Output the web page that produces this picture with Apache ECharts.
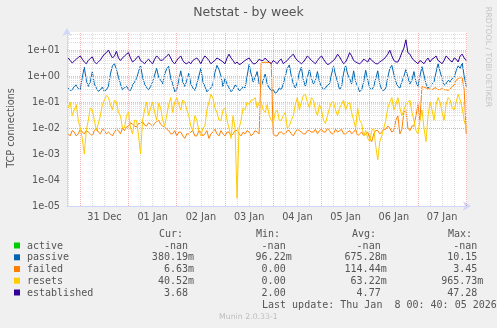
<!DOCTYPE html>
<html><head><meta charset="utf-8">
<script src="https://cdn.jsdelivr.net/npm/echarts@6/dist/echarts.min.js"></script>
<style>html,body{margin:0;padding:0;background:#F0F0F0;}#c{width:497px;height:328px;}</style>
</head><body><div id="c"></div>
<script>
const chartTitle = 'Netstat - by week';
const yAxisTitle = 'TCP connections';
const dayLabels = ['31 Dec','01 Jan','02 Jan','03 Jan','04 Jan','05 Jan','06 Jan','07 Jan'];
const dayLabelHours = [12,36,60,84,108,132,156,180];
const yTickValues = [1e-5,1e-4,1e-3,1e-2,1e-1,1,10];
const yTickLabels = ['1e-05','1e-04','1e-03','1e-02','1e-01','1e+00','1e+01'];
// sample times: hours relative to 31 Dec 00:00, one sample every hour
const startHour = -6, stepHours = 1;

const seriesNames = ['active','passive','failed','resets','established'];
const seriesColors = ['#00CC00','#0066B3','#FF8000','#FFCC00','#330099'];

const active = [];
const passive = [
0.35,0.28,0.3,0.4,0.45,0.33,0.3,0.9,2.2,0.7,0.4,0.6,1.5,0.5,0.35,0.26,0.3,0.38,0.25,0.3,
0.4,1.2,2.5,3.0,1.8,0.9,0.5,0.3,0.35,0.42,0.3,0.28,0.45,0.6,0.8,1.5,2.6,0.9,0.5,0.35,
0.3,0.4,0.6,1.1,2.0,0.9,0.7,0.5,1.2,1.9,2.4,0.8,0.5,0.25,0.3,0.7,1.6,0.6,0.4,0.7,
1.3,0.5,0.35,0.28,0.5,1.0,2.0,0.6,0.4,0.25,0.3,0.35,0.5,1.4,2.6,1.8,1.0,0.4,0.8,0.5,
0.35,0.25,0.3,0.45,0.4,0.28,0.3,0.4,0.35,1.0,2.8,1.2,0.6,0.9,1.5,0.5,0.4,0.7,1.2,0.5,
0.35,0.28,0.3,0.22,0.25,0.35,0.3,0.5,1.0,2.0,2.7,1.0,0.5,0.35,0.6,1.4,2.2,0.7,0.4,0.9,
1.8,0.8,0.5,0.7,1.5,0.6,0.4,0.3,0.35,0.45,0.5,1.2,2.4,1.1,0.6,0.3,0.4,1.3,2.6,1.2,
0.8,0.5,1.6,0.6,0.4,0.25,0.3,0.6,1.7,0.7,0.35,0.3,0.4,0.8,1.6,0.5,0.3,0.28,0.35,0.9,
2.0,2.6,1.2,0.6,0.4,0.35,0.6,1.0,1.8,0.9,0.5,0.7,1.5,0.6,0.4,1.0,2.3,1.1,0.5,0.35,
0.4,0.5,0.6,1.4,3.0,1.5,0.8,0.45,0.5,0.7,0.6,0.8,0.9,1.6,2.5,2.0,3.2,1.0,0.4];
const failed = [
0.006,0.005,0.008,0.007,0.005,0.006,0.009,0.007,0.006,0.008,0.007,0.006,0.005,0.008,0.01,0.007,0.006,0.009,0.008,0.006,
0.007,0.006,0.005,0.007,0.009,0.008,0.006,0.01,0.008,0.011,0.012,0.016,0.014,0.012,0.011,0.015,0.015,0.018,0.013,0.012,
0.016,0.014,0.012,0.015,0.018,0.02,0.014,0.012,0.011,0.009,0.008,0.006,0.006,0.008,0.005,0.007,0.007,0.005,0.004,0.006,
0.006,0.007,0.008,0.005,0.005,0.008,0.007,0.005,0.006,0.008,0.004,0.006,0.007,0.009,0.006,0.005,0.008,0.006,0.005,0.007,
0.007,0.005,0.006,0.008,0.008,0.006,0.005,0.007,0.006,0.008,0.007,0.005,0.006,0.008,0.007,0.006,3.2,3.4,3.4,3.4,
3.3,3.2,0.006,0.005,0.005,0.007,0.007,0.006,0.006,0.008,0.008,0.006,0.005,0.007,0.009,0.008,0.007,0.006,0.006,0.008,
0.008,0.007,0.007,0.009,0.006,0.008,0.009,0.007,0.007,0.01,0.008,0.006,0.006,0.009,0.007,0.008,0.009,0.006,0.006,0.007,
0.008,0.006,0.007,0.009,0.005,0.006,0.007,0.005,0.006,0.007,0.004,0.003,0.006,0.008,0.008,0.006,0.007,0.009,0.009,0.012,
0.01,0.007,0.008,0.02,0.03,0.006,0.009,0.04,0.05,0.01,0.008,0.012,0.012,0.03,0.08,0.02,0.4,0.38,0.35,0.33,
0.32,0.3,0.34,0.36,0.3,0.31,0.33,0.3,0.3,0.28,0.32,0.4,0.45,0.7,0.8,0.85,0.85,0.3,0.006];
const resets = [
0.06,0.1,0.03,0.05,0.08,0.02,0.01,0.004,0.001,0.008,0.02,0.06,0.05,0.02,0.008,0.015,0.03,0.08,0.12,0.18,
0.15,0.08,0.05,0.12,0.1,0.04,0.03,0.01,0.01,0.03,0.04,0.01,0.006,0.02,0.02,0.005,0.001,0.02,0.05,0.1,
0.03,0.06,0.1,0.04,0.02,0.09,0.06,0.02,0.012,0.03,0.08,0.15,0.04,0.1,0.15,0.08,0.05,0.12,0.1,0.05,
0.03,0.012,0.008,0.03,0.02,0.008,0.005,0.01,0.012,0.05,0.1,0.2,0.14,0.06,0.04,0.02,0.02,0.05,0.06,0.02,
0.01,0.004,0.03,0.01,0.00002,0.01,0.02,0.06,0.05,0.1,0.08,0.12,0.12,0.15,0.06,0.1,0.1,0.05,0.04,0.08,
0.03,0.02,0.015,0.04,0.05,0.02,0.02,0.03,0.04,0.01,0.012,0.02,0.03,0.08,0.15,0.05,0.1,0.18,0.2,0.1,
0.06,0.15,0.12,0.05,0.03,0.08,0.05,0.02,0.015,0.03,0.06,0.1,0.1,0.05,0.03,0.06,0.08,0.12,0.05,0.08,
0.1,0.04,0.02,0.01,0.06,0.02,0.015,0.005,0.008,0.004,0.003,0.008,0.01,0.002,0.0006,0.003,0.005,0.01,0.02,0.06,
0.1,0.15,0.05,0.08,0.15,0.06,0.03,0.05,0.08,0.1,0.12,0.04,0.02,0.008,0.006,0.02,0.05,0.01,0.003,0.03,
0.1,0.05,0.02,0.08,0.15,0.1,0.04,0.02,0.08,0.15,0.12,0.06,0.05,0.1,0.2,0.12,0.06,0.02,0.01];
const established = [
5,4,3.2,3.8,4.5,5.2,6,4.5,3.5,3,4,4.8,5.5,3.6,3,3.5,4.2,5.5,7,8,
10,7,5,6,9,5,4,5,6,7,8,5,3.5,4,5,6,4,3.5,3,3.8,
4.5,3.5,3,4.5,6,5,4,4.2,5,6,7,5,3.5,3,4,5,6,4,3.2,3,
3.5,3,4,4.5,5,4,3,4.5,6,5,4,3,3.5,4,5,4.5,4,3.5,3,5,
7,5,4,3,3.5,2.8,3,3.5,4,4.5,5,3.8,3,3,3.5,4.5,4,4,5,4,
3.5,3,4,3.5,3,4,4.5,3,3.5,4,5,6,7,5,4,3.5,3,3.5,4.5,6,
5,4,3.5,3,4,5,6,4.5,3.5,2.8,3,3.5,4,5,7,5.5,4,3,3.5,5,
8,6,4,3.5,3.2,3,3.5,4.5,4,3.5,5,4,3.5,3,3,3.5,4,4.5,5.5,7,
10,6,4,3.5,3.5,5,8,12,25,8,7,5,4,3.5,3,4,3.5,3,4,5,
3.5,4.5,5,6,4,3.5,3,4,6,5,4,3.5,5,4.5,3.5,6,7,5,4];
const seriesValues = [active, passive, failed, resets, established];

const legendHeaders = ['Cur:','Min:','Avg:','Max:'];
const curVals = ['-nan','380.19m','6.63m','40.52m','3.68'];
const minVals = ['-nan','96.22m','0.00','0.00','2.00'];
const avgVals = ['-nan','675.28m','114.44m','63.22m','4.77'];
const maxVals = ['-nan','10.15','3.45','965.73m','47.28'];
const lastUpdate = 'Last update: Thu Jan  8 00: 40: 05 2026';
const muninVersion = 'Munin 2.0.33-1';
const rrdCredit = 'RRDTOOL / TOBI OETIKER';

const MONO = '"DejaVu Sans Mono", monospace';
const SANS = '"DejaVu Sans", sans-serif';
const FONTC = '#555555';

// gridlines
const gridMarks = [];
const minorStyle = {color:'#dcdcdc', width:1, type:[1,1]};
const majorStyle = {color:'rgba(235,120,120,0.55)', width:1, type:[1,1]};
for (let e=-5; e<=1; e++) {
  for (let m=2; m<=9; m++) {
    const v = m*Math.pow(10,e);
    if (v < 50) gridMarks.push({yAxis: v, lineStyle: minorStyle});
  }
}
for (let h=-6; h<=186; h+=6) if (h % 24 !== 0) gridMarks.push({xAxis: h, lineStyle: minorStyle});
yTickValues.forEach(v => gridMarks.push({yAxis: v, lineStyle: majorStyle}));
for (let h=0; h<=192; h+=24) gridMarks.push({xAxis: h, lineStyle: majorStyle});

const series = [{
  name: 'grid', type: 'line', data: [], silent: true, z: 1,
  markLine: {silent: true, symbol: ['none','none'], label: {show:false}, animation:false, data: gridMarks}
}];
seriesNames.forEach((n,i) => {
  series.push({
    name: n, type: 'line', z: 2 + i,
    data: seriesValues[i].map((v,k) => [startHour + k*stepHours, v]),
    showSymbol: false, symbol: 'none',
    lineStyle: {color: seriesColors[i], width: 1},
    itemStyle: {color: seriesColors[i]},
    emphasis: {disabled: true}, animation: false
  });
});

// graphic elements: title, axis title, legend table
const graphic = [];
graphic.push({type:'text', left: 'center', top: 6, style:{text: chartTitle, font: '12.5px ' + SANS, fill: FONTC}});
graphic.push({type:'text', x: 11, y: 128, rotation: Math.PI/2,
  style:{text: yAxisTitle, font: '9.72px ' + SANS, fill: FONTC, align:'center', verticalAlign:'middle'}});
graphic.push({type:'text', x: 488, y: 57, rotation: -Math.PI/2,
  style:{text: rrdCredit, font: '7.8px ' + SANS, fill: '#c4c4c4', align:'center', verticalAlign:'middle'}});
graphic.push({type:'text', x: 219, y: 317,
  style:{text: muninVersion, font: '7.8px ' + SANS, fill: '#bdbdbd', align:'left', verticalAlign:'middle'}});

const rowY = [246, 257.8, 269.5, 281.2, 293];
const headerX = [159, 256, 352, 448];
const colRight = [194, 291.7, 386.7, 483.3];
const charW = 6.02;
legendHeaders.forEach((h,i) => graphic.push({type:'text', x: headerX[i], y: 234,
  style:{text: h, font: '10px ' + MONO, fill: FONTC, align:'left', verticalAlign:'middle'}}));
const cols = [curVals, minVals, avgVals, maxVals];
seriesNames.forEach((n,r) => {
  graphic.push({type:'rect', shape:{x:14, y: rowY[r]-3.5, width:6, height:6}, style:{fill: seriesColors[r]}});
  graphic.push({type:'text', x: 27, y: rowY[r],
    style:{text: n, font: '10px ' + MONO, fill: FONTC, align:'left', verticalAlign:'middle'}});
  cols.forEach((col,c) => {
    const s = col[r];
    const hasSuffix = /[a-zA-Z]$/.test(s) && !/nan$/.test(s);
    graphic.push({type:'text', x: colRight[c] - (hasSuffix ? 0 : charW), y: rowY[r],
      style:{text: s, font: '10px ' + MONO, fill: FONTC, align:'right', verticalAlign:'middle'}});
  });
});
graphic.push({type:'text', x: 262, y: 305,
  style:{text: lastUpdate, font: '10px ' + MONO, fill: FONTC, align:'left', verticalAlign:'middle'}});

const chart = echarts.init(document.getElementById('c'), null, {renderer:'canvas'});
chart.setOption({
  backgroundColor: '#F0F0F0',
  animation: false,
  grid: {left: 67, right: 30, top: 32, bottom: 122, containLabel: false, show: true,
         backgroundColor: '#FFFFFF', borderWidth: 0},
  xAxis: {
    type: 'value', min: -6.6, max: 192.4,
    axisLine: {show: true, onZero: false, lineStyle: {color: '#CFD6F8', width: 1},
               symbol: ['none','arrow'], symbolSize: [7, 8], symbolOffset: [0, 4]},
    axisTick: {show: false},
    splitLine: {show: false},
    axisLabel: {customValues: dayLabelHours, margin: 6,
      formatter: v => { const i = dayLabelHours.indexOf(Math.round(v)); return i >= 0 ? dayLabels[i] : ''; },
      color: FONTC, fontFamily: SANS, fontSize: 9.72}
  },
  yAxis: {
    type: 'log', logBase: 10, min: 1e-5, max: 50, splitNumber: 7,
    axisLine: {show: true, onZero: false, lineStyle: {color: '#CFD6F8', width: 1},
               symbol: ['none','arrow'], symbolSize: [7, 8], symbolOffset: [0, 4]},
    axisTick: {show: false},
    splitLine: {show: false},
    minorSplitLine: {show: false},
    axisLabel: {margin: 7, color: FONTC, fontFamily: SANS, fontSize: 9.72,
      showMaxLabel: false,
      formatter: v => { const i = yTickValues.findIndex(t => Math.abs(Math.log10(t) - Math.log10(v)) < 1e-6); return i >= 0 ? yTickLabels[i] : ''; }}
  },
  series: series,
  graphic: graphic
});
</script></body></html>
